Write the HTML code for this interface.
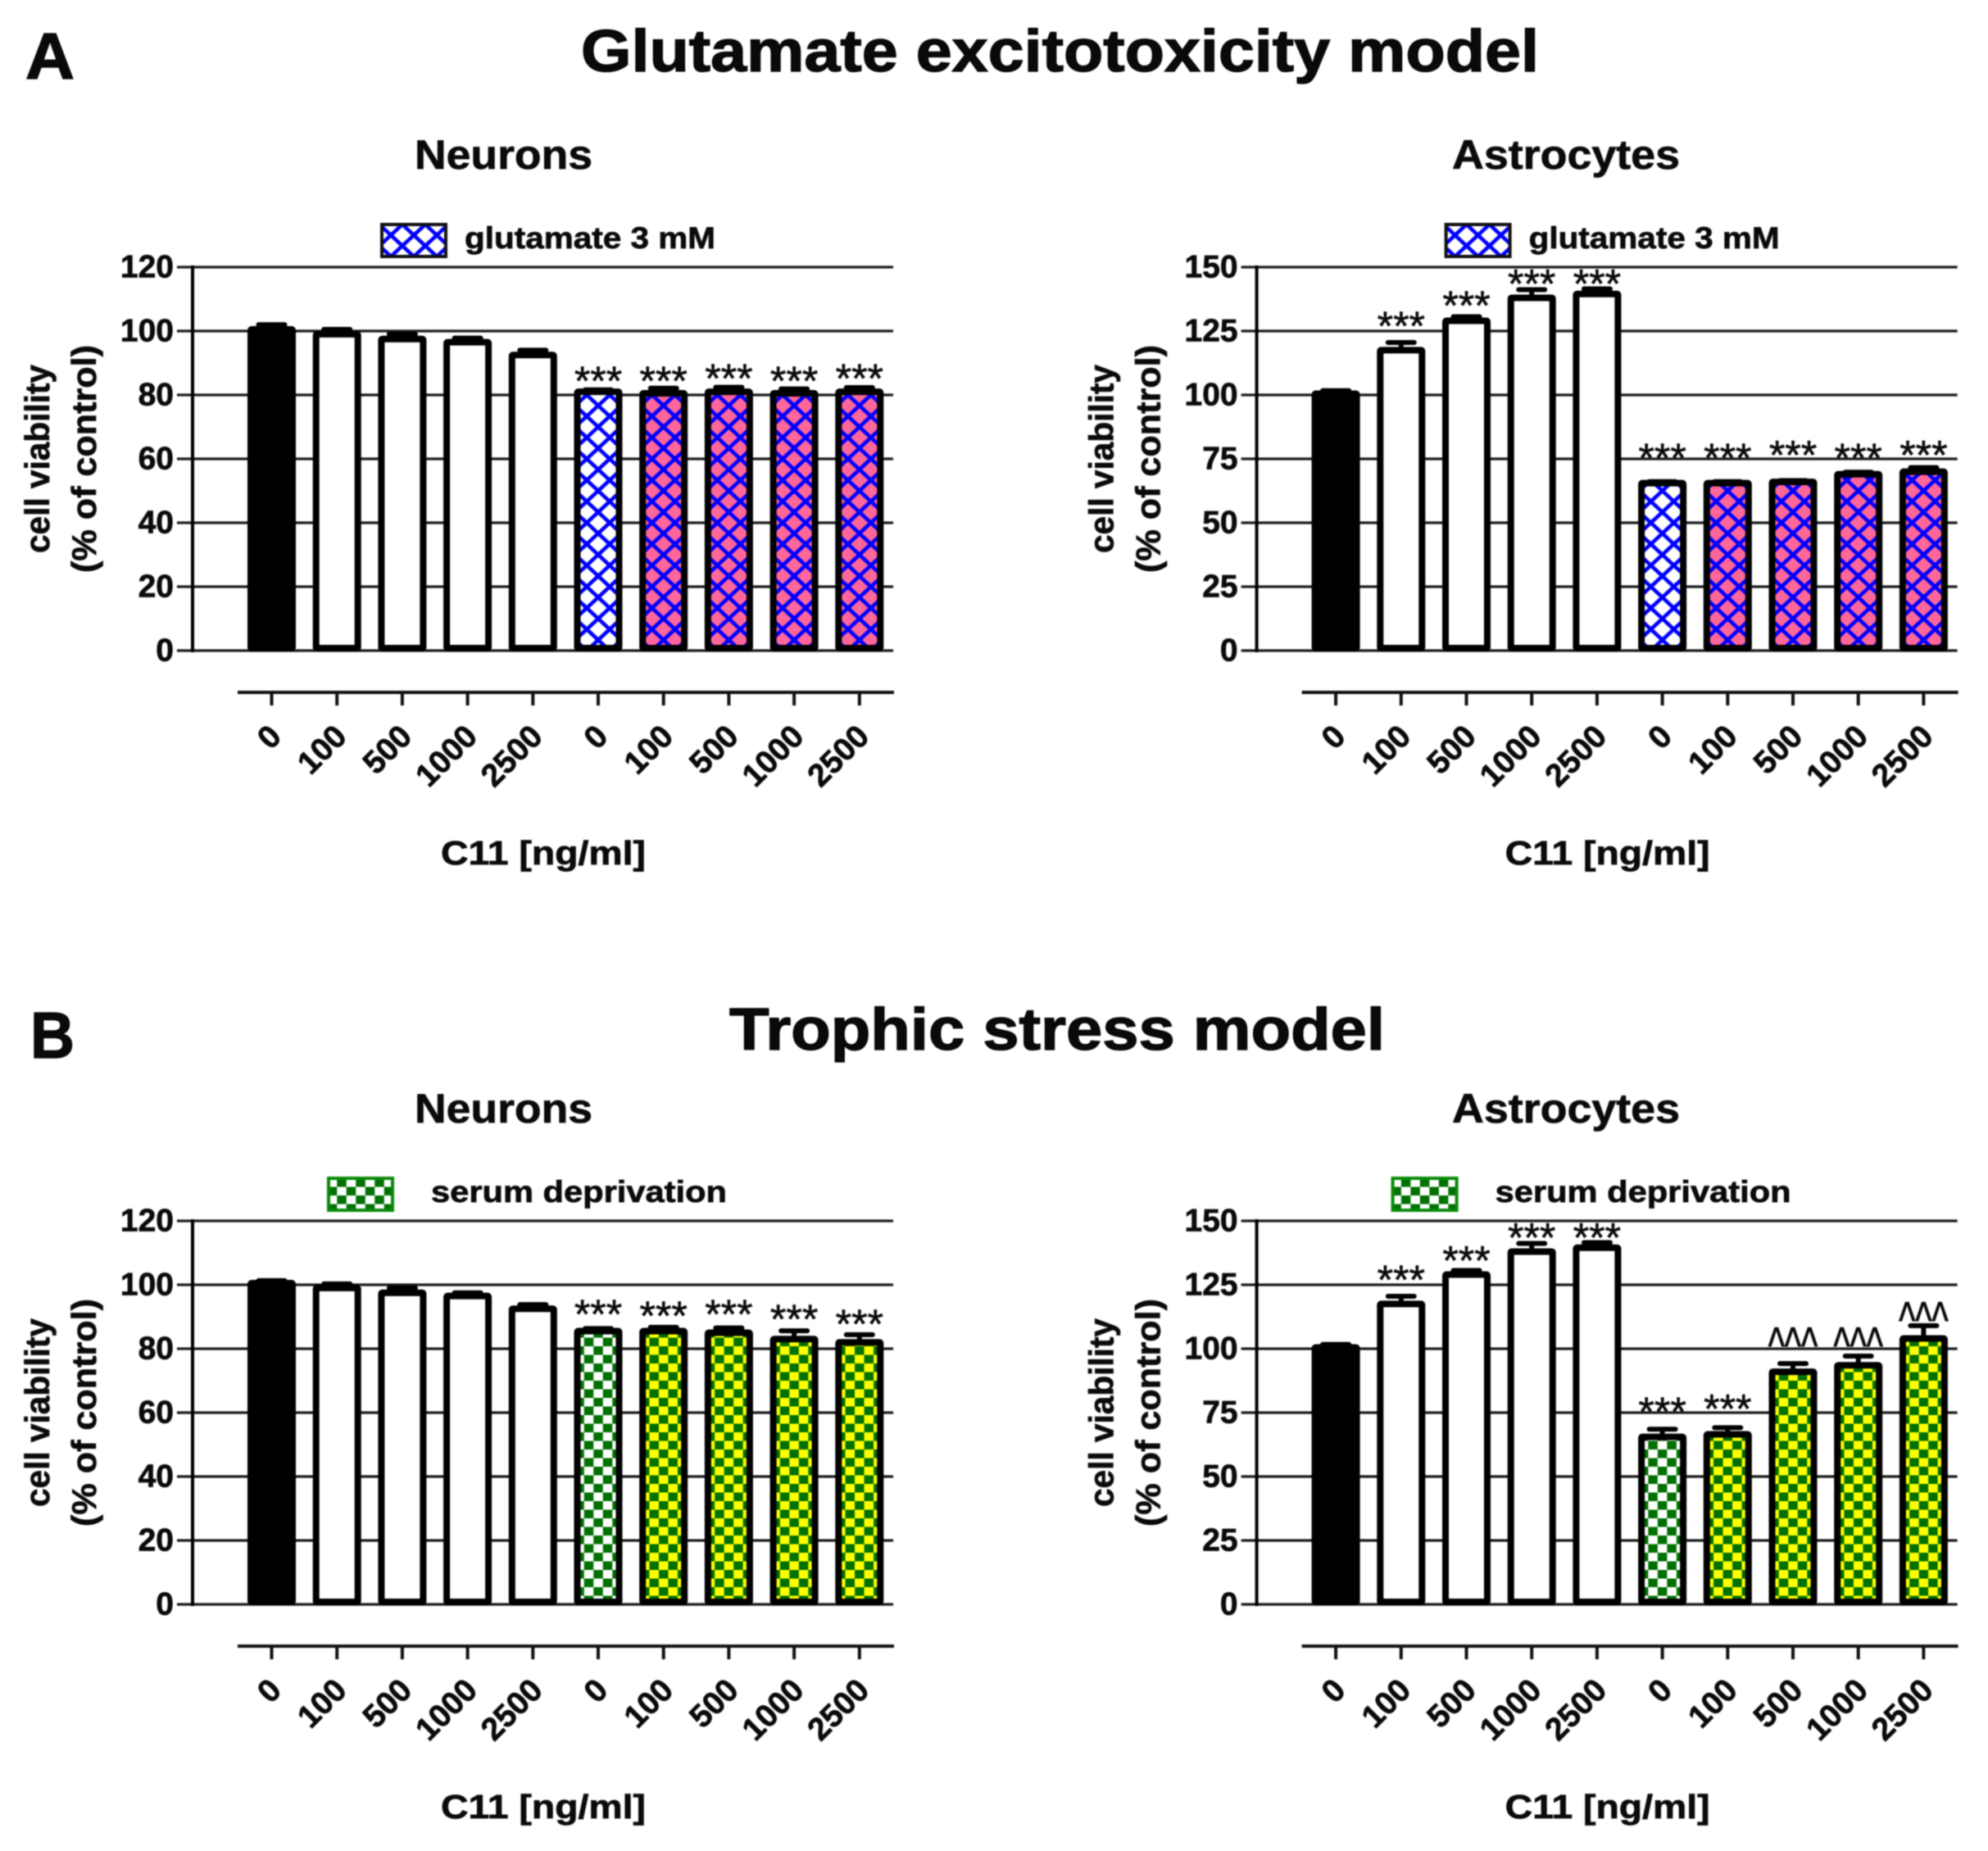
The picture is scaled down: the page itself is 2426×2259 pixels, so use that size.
<!DOCTYPE html>
<html lang="en">
<head>
<meta charset="utf-8">
<title>Glutamate excitotoxicity and trophic stress models</title>
<style>
html,body{margin:0;padding:0;background:#fff;}
svg{display:block;filter:blur(0.8px);font-family:"Liberation Sans",sans-serif;}
text{fill:#0a0a0a;}
.b{font-weight:bold;stroke:#0a0a0a;stroke-width:0.7px;}
.h{font-weight:bold;stroke:#000;stroke-width:1.3px;}
</style>
</head>
<body>
<svg id="figure" xmlns="http://www.w3.org/2000/svg" width="2426" height="2259" viewBox="0 0 2426 2259">
  <rect width="2426" height="2259" fill="#fff"/>
  <defs id="defs"></defs>
  <text class="h" x="31" y="96" font-size="80" textLength="60" lengthAdjust="spacingAndGlyphs">A</text>
  <text class="h" x="709" y="87" font-size="72" textLength="1169" lengthAdjust="spacingAndGlyphs">Glutamate excitotoxicity model</text>
  <text class="h" x="37" y="1291" font-size="80" textLength="54" lengthAdjust="spacingAndGlyphs">B</text>
  <text class="h" x="890" y="1281" font-size="72" textLength="800" lengthAdjust="spacingAndGlyphs">Trophic stress model</text>
  <g id="charts"></g>
</svg>
<script>
// ---- chart data ----
const doseLabels = ['0','100','500','1000','2500','0','100','500','1000','2500'];
const neuronTicks = [0,20,40,60,80,100,120];
const astroTicks = [0,25,50,75,100,125,150];

const glutNeuronValues = [100.5,99,97.5,96.5,92.5,81,80.5,81,80.5,81];
const glutNeuronErrors = [1.5,1.5,1.5,1.3,1.5,0.6,1.6,1.4,1.4,1.3];
const glutNeuronMarks = ['','','','','','***','***','***','***','***'];
const glutNeuronMarkLevels = [0,0,0,0,0,85.6,85.6,86.4,85.6,86.4];

const glutAstroValues = [100.5,117.5,129,138,139.5,65.5,65.5,66,69,70];
const glutAstroErrors = [1.2,3,1.6,3.2,2,0.6,0.6,0.5,0.8,1.6];
const glutAstroMarks = ['','***','***','***','***','***','***','***','***','***'];
const glutAstroMarkLevels = [0,128.5,136.5,145,145,77,77,78,77,78];

const serumNeuronValues = [100.5,99,97.5,96.5,92.5,85.5,85.5,85,83,82];
const serumNeuronErrors = [0.8,1.3,1.5,1,1.3,0.8,1.2,1.5,2.6,2.4];
const serumNeuronMarks = ['','','','','','***','***','***','***','***'];
const serumNeuronMarkLevels = [0,0,0,0,0,92,91.5,92,90.5,89];

const serumAstroValues = [100.5,117.5,129,138,139.5,65.5,66.5,91,93.5,104];
const serumAstroErrors = [1.2,3,1.6,3.2,2,3,2.6,3.2,3.6,5];
const serumAstroMarks = ['','***','***','***','***','***','***','^^^','^^^','^^^'];
const serumAstroMarkLevels = [0,128.5,136,145,145,77,78,104.5,104.5,114.5];

const glutFillKinds = ['black','white','white','white','white','hatch-white','hatch-pink','hatch-pink','hatch-pink','hatch-pink'];
const serumFillKinds = ['black','white','white','white','white','check-white','check-yellow','check-yellow','check-yellow','check-yellow'];

// ---- drawing ----
const NS = 'http://www.w3.org/2000/svg';
const defs = document.getElementById('defs');
const charts = document.getElementById('charts');
let patternCount = 0;

function mk(tag, attrs, parent) {
  const el = document.createElementNS(NS, tag);
  for (const k in attrs) el.setAttribute(k, attrs[k]);
  if (parent) parent.appendChild(el);
  return el;
}

function makePattern(kind, cx, top) {
  patternCount += 1;
  const id = 'p' + patternCount;
  const bg = kind.endsWith('pink') ? '#ff6699' : kind.endsWith('yellow') ? '#ffff00' : '#ffffff';
  if (kind.startsWith('hatch')) {
    const p = mk('pattern', {id: id, patternUnits: 'userSpaceOnUse', width: 28, height: 26, x: cx - 14, y: top}, defs);
    mk('rect', {width: 28, height: 26, fill: bg}, p);
    mk('line', {x1: -1, y1: -1, x2: 29, y2: 27, stroke: '#0000ff', 'stroke-width': 4.6}, p);
    mk('line', {x1: 29, y1: -1, x2: -1, y2: 27, stroke: '#0000ff', 'stroke-width': 4.6}, p);
  } else {
    const p = mk('pattern', {id: id, patternUnits: 'userSpaceOnUse', width: 23, height: 21, x: cx - 5.75, y: top}, defs);
    mk('rect', {width: 23, height: 21, fill: bg}, p);
    mk('rect', {x: 0, y: 0, width: 11.5, height: 10.5, fill: '#007000'}, p);
    mk('rect', {x: 11.5, y: 10.5, width: 11.5, height: 10.5, fill: '#007000'}, p);
  }
  return 'url(#' + id + ')';
}

function drawPanel(cfg) {
  const g = mk('g', {}, charts);
  
  

  const ox = cfg.ox, y0 = cfg.y0;
  const axisX = 235 + ox, right = 1090 + ox;
  const maxV = cfg.ticks[cfg.ticks.length - 1];
  const yScale = v => y0 - v * 468 / maxV;
  const xScale = i => 331.5 + ox + i * 79.7;

  // title
  const title = mk('text', {x: cfg.titleX, y: y0 - 588, 'font-size': 50, 'class': 'b', textLength: cfg.titleLen, lengthAdjust: 'spacingAndGlyphs'}, g);
  title.textContent = cfg.title;
  
  

  // legend
  const swX = cfg.legendX + ox, swY = y0 - 520;
  const swatch = mk('rect', {x: swX, y: swY, width: 78, height: 39, fill: makePattern(cfg.legendKind, swX + 39, swY), stroke: cfg.legendStroke, 'stroke-width': 4}, g);
  
  
  const legendText = mk('text', {x: cfg.legendTextX + ox, y: y0 - 491, 'font-size': 37, 'class': 'b', textLength: cfg.legendTextLen, lengthAdjust: 'spacingAndGlyphs'}, g);
  legendText.textContent = cfg.legend;
  
  

  // y axis + gridlines + tick labels
  cfg.ticks.forEach(t => {
    const y = yScale(t);
    const grid = mk('line', {x1: 216 + ox, x2: right, y1: y, y2: y, stroke: '#1c1c1c', 'stroke-width': 3.2}, g);
    
    
    const lab = mk('text', {x: 212 + ox, y: y + 12.5, 'font-size': 39, 'class': 'b', 'text-anchor': 'end'}, g);
    lab.textContent = String(t);
    
    
  });
  const yAxis = mk('line', {x1: axisX, x2: axisX, y1: yScale(maxV) - 2, y2: y0 + 2, stroke: '#000', 'stroke-width': 4}, g);
  
  

  // y axis titles
  const t1 = mk('text', {transform: 'translate(' + (60 + ox) + ' ' + (y0 - 234) + ') rotate(-90)', 'font-size': 42, 'class': 'b', 'text-anchor': 'middle', textLength: 230, lengthAdjust: 'spacingAndGlyphs'}, g);
  t1.textContent = 'cell viability';
  
  
  const t2 = mk('text', {transform: 'translate(' + (117 + ox) + ' ' + (y0 - 234) + ') rotate(-90)', 'font-size': 42, 'class': 'b', 'text-anchor': 'middle', textLength: 278, lengthAdjust: 'spacingAndGlyphs'}, g);
  t2.textContent = '(% of control)';
  
  

  // x axis
  const xAxis = mk('line', {x1: 290 + ox, x2: 1091 + ox, y1: y0 + 51, y2: y0 + 51, stroke: '#111', 'stroke-width': 4}, g);
  
  
  const xTitle = mk('text', {x: 538 + ox, y: y0 + 261, 'font-size': 41, 'class': 'b', textLength: 250, lengthAdjust: 'spacingAndGlyphs'}, g);
  xTitle.textContent = 'C11 [ng/ml]';
  
  

  // bars
  cfg.values.forEach((v, i) => {
    const cx = xScale(i);
    const yv = yScale(v);
    const bar = mk('g', {}, g);
    
    

    const top = yScale(v + cfg.errors[i]);
    const stem = mk('line', {x1: cx, x2: cx, y1: yv, y2: top, stroke: '#000', 'stroke-width': 6}, bar);
    
    
    const cap = mk('line', {x1: cx - 16, x2: cx + 16, y1: top, y2: top, stroke: '#000', 'stroke-width': 6, 'stroke-linecap': 'round'}, bar);
    
    

    const kind = cfg.kinds[i];
    const fill = (kind === 'black' || kind === 'white') ? (kind === 'black' ? '#000' : '#fff') : makePattern(kind, cx, y0);
    const rect = mk('rect', {x: cx - 25.5, y: yv, width: 51, height: y0 - 3 - yv, fill: fill, stroke: '#000', 'stroke-width': 8, rx: 1}, bar);
    
    

    // significance marks
    const mark = cfg.marks[i];
    if (mark === '***') {
      const s = mk('text', {x: cx, y: yScale(cfg.markLevels[i]) + 22, 'font-size': 50, 'text-anchor': 'middle', stroke: '#0a0a0a', 'stroke-width': 0.6}, bar);
      s.textContent = mark;
      
      
    } else if (mark === '^^^') {
      const s = mk('text', {transform: 'translate(' + cx + ' ' + (yScale(cfg.markLevels[i]) + 32) + ') scale(1.3 1.9)', 'font-size': 33, 'text-anchor': 'middle', stroke: '#0a0a0a', 'stroke-width': 0.5}, bar);
      s.textContent = mark;
      
      
    }

    // x ticks + labels
    const tick = mk('line', {x1: cx, x2: cx, y1: y0 + 51, y2: y0 + 67, stroke: '#111', 'stroke-width': 4}, g);
    
    
    const lab = mk('text', {transform: 'translate(' + (cx + 14) + ' ' + (y0 + 107) + ') rotate(-45)', 'font-size': 39, 'class': 'b', 'text-anchor': 'end'}, g);
    lab.textContent = doseLabels[i];
    
    
  });
}

const glutLegend = {legend: 'glutamate 3 mM', legendKind: 'hatch-white', legendStroke: '#111', legendX: 466, legendTextX: 567, legendTextLen: 306, kinds: glutFillKinds};
const serumLegend = {legend: 'serum deprivation', legendKind: 'check-white', legendStroke: '#0a8a0a', legendX: 401, legendTextX: 526, legendTextLen: 361, kinds: serumFillKinds};
const neuronTitle = {title: 'Neurons', titleX: 506, titleLen: 217, ticks: neuronTicks, ox: 0};
const astroTitle = {title: 'Astrocytes', titleX: 1772, titleLen: 278, ticks: astroTicks, ox: 1298.6};

drawPanel(Object.assign({name: 'chart-glutamate-neurons', y0: 794, values: glutNeuronValues, errors: glutNeuronErrors, marks: glutNeuronMarks, markLevels: glutNeuronMarkLevels}, neuronTitle, glutLegend));
drawPanel(Object.assign({name: 'chart-glutamate-astrocytes', y0: 794, values: glutAstroValues, errors: glutAstroErrors, marks: glutAstroMarks, markLevels: glutAstroMarkLevels}, astroTitle, glutLegend));
drawPanel(Object.assign({name: 'chart-serum-neurons', y0: 1958, values: serumNeuronValues, errors: serumNeuronErrors, marks: serumNeuronMarks, markLevels: serumNeuronMarkLevels}, neuronTitle, serumLegend));
drawPanel(Object.assign({name: 'chart-serum-astrocytes', y0: 1958, values: serumAstroValues, errors: serumAstroErrors, marks: serumAstroMarks, markLevels: serumAstroMarkLevels}, astroTitle, serumLegend));
</script>
</body>
</html>
